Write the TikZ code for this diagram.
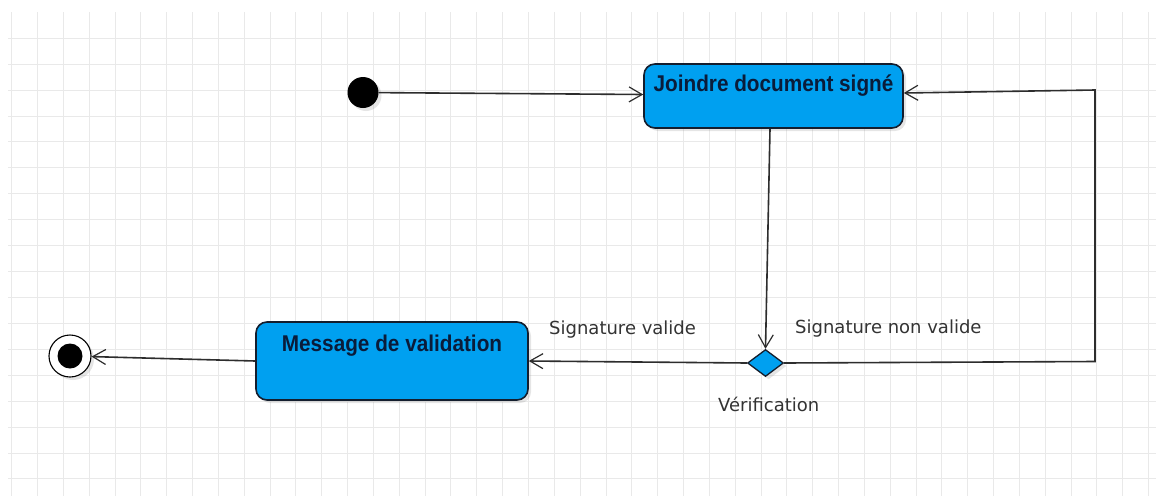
\documentclass[tikz,border=0pt]{standalone}
\usepackage{fontspec}
\usetikzlibrary{arrows.meta,shapes.geometric,shadows}
\newfontfamily\boxfont[FakeStretch=0.91]{Liberation Sans}
\newfontfamily\labelfont{DejaVu Sans}
\definecolor{actfill}{RGB}{0,160,240}
\definecolor{actline}{RGB}{20,30,46}
\definecolor{acttext}{RGB}{10,28,58}
\definecolor{flowline}{RGB}{45,45,45}
\definecolor{gridcol}{RGB}{233,233,233}
\tikzset{
  gridline/.style={draw=gridcol, line width=1pt},
  softshadow/.style={drop shadow={opacity=0.2, shadow xshift=3pt, shadow yshift=-3pt}},
  actbox/.style={rectangle, rounded corners=11pt, draw=actline, line width=1.6pt,
    fill=actfill, softshadow, inner sep=0pt, text=acttext,
    font=\boxfont\bfseries\fontsize{22.8}{26}\selectfont},
  decision/.style={diamond, draw=actline, line width=1.3pt, fill=actfill, softshadow,
    inner sep=0pt, minimum width=36pt, minimum height=27pt},
  startdot/.style={circle, fill=black, inner sep=0pt, minimum size=31pt, softshadow},
  enddot/.style={circle, draw=black, line width=1.1pt, fill=white, inner sep=0pt,
    minimum size=42pt, softshadow},
  flow/.style={draw=flowline, line width=1.6pt,
    -{Straight Barb[length=13pt, width=15pt, line width=1.2pt]}},
  guard/.style={text=black!80, font=\labelfont\fontsize{18}{22}\selectfont,
    inner sep=0pt, anchor=base west},
}
\begin{document}
\begin{tikzpicture}[x=1pt, y=-1pt]
  % page and background grid
  \fill[white] (0,0) rectangle (1156,496);
  \useasboundingbox (0,0) rectangle (1156,496);
  \foreach \i in {0,...,44}
    \draw[gridline] ({11.7+25.84*\i},12) -- ({11.7+25.84*\i},496);
  \foreach \j in {0,...,17}
    \draw[gridline] (8,{38.3+25.92*\j}) -- (1156,{38.3+25.92*\j});

  % states
  \node[startdot] (start) at (363,92.5) {};
  \node[actbox, minimum width=259pt, text height=27.7pt, text depth=36.3pt]
    (join) at (773.5,96) {Joindre document signé};
  \node[decision] (verif) at (765.5,363) {};
  \node[actbox, minimum width=272pt, text height=29.7pt, text depth=48.3pt]
    (valid) at (392,361) {Message de validation};
  \node[enddot] (end) at (70,356) {};
  \fill[black] (end.center) circle (12.5pt);

  % guard and decision labels
  \node[guard] (lblok) at (549,334) {Signature valide};
  \node[guard] (lblko) at (795,333.5) {Signature non valide};
  \node[guard] (lblverif) at (718,411) {Vérification};

  % transitions
  \coordinate (loopbottom) at (1095,361.5);
  \coordinate (looptop) at (1095,90);
  \draw[flow] (start) -- ([yshift=1.5pt]join.west);
  \draw[flow] ([xshift=-3.5pt]join.south) -- (verif.north);
  \draw[flow] (verif.west) -- (valid.east);
  \draw[flow] (verif.east) -- (loopbottom) -- (looptop) -- ([yshift=3pt]join.east);
  \draw[flow] (valid.west) -- (end);
\end{tikzpicture}
\end{document}
